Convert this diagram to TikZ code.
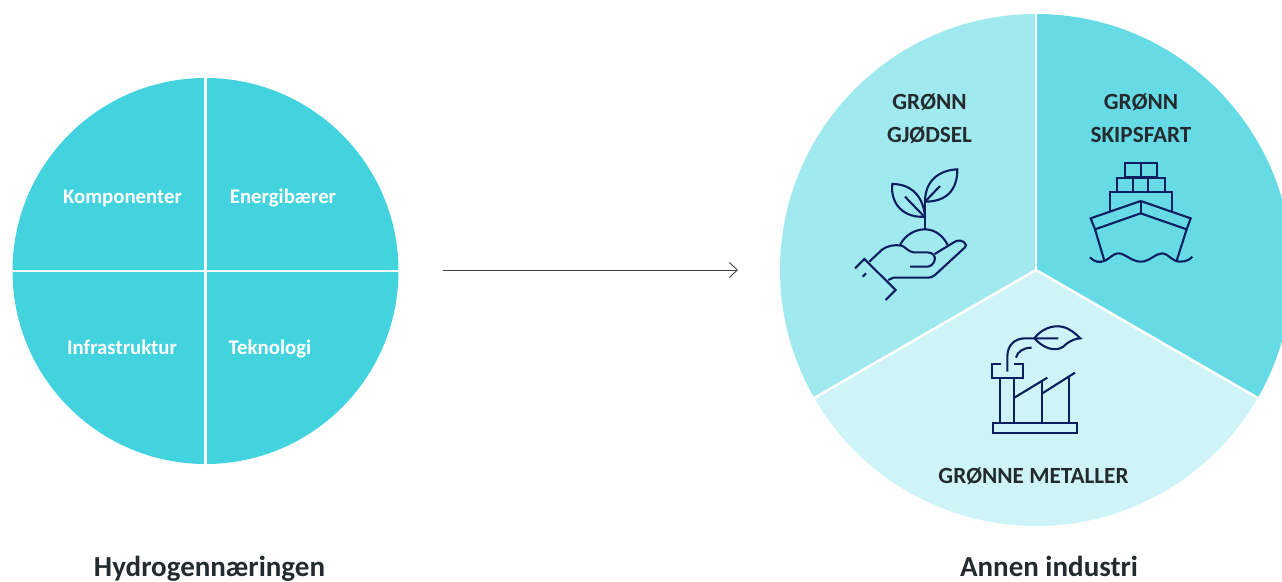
\documentclass[tikz,border=0pt]{standalone}
\usepackage{fontspec}
\setmainfont{Carlito}
\usetikzlibrary{arrows.meta}

\definecolor{hydroblue}{HTML}{43D3DE}
\definecolor{gjodselblue}{HTML}{A0E9EE}
\definecolor{skipblue}{HTML}{66DBE5}
\definecolor{metallblue}{HTML}{CFF4F7}
\definecolor{iconblue}{HTML}{0B1F5E}
\definecolor{labelgray}{HTML}{232B2E}

\tikzset{
  wheel/.style={circle,inner sep=0pt,outer sep=0pt},
  divider/.style={draw=white,line width=2.6pt},
  icon/.style={draw=iconblue,line width=2.1pt},
  whitelabel/.style={anchor=base,text=white,font=\fontsize{20.8}{24}\selectfont\bfseries},
  sectorlabel/.style={anchor=base,text=labelgray,font=\fontsize{23.2}{26}\selectfont\bfseries},
  titlelabel/.style={anchor=base,text=labelgray,font=\fontsize{29}{33}\selectfont\bfseries}
}

\begin{document}
\begin{tikzpicture}[x=1pt,y=-1pt]
\useasboundingbox (0,0) rectangle (1282,581);
\clip (0,0) rectangle (1282,581);

\node[wheel,fill=hydroblue,minimum size=386pt] (hydro) at (205.5,271) {};
\draw[divider] (hydro.north) -- (hydro.south);
\draw[divider] (hydro.west) -- (hydro.east);

\node[whitelabel] (komponenter) at (122.5,203) {Komponenter};
\node[whitelabel] (energi) at (283,203) {Energibærer};
\node[whitelabel] (infra) at (122,354) {Infrastruktur};
\node[whitelabel] (teknologi) at (270,354) {Teknologi};
\node[titlelabel] (hydrotitle) at (209.5,576) {Hydrogennæringen};

\coordinate (arrowstart) at (443,270);
\coordinate (arrowend) at (738,270);
\draw[draw=black!75,line width=0.8pt,-{Straight Barb[length=8pt,width=15pt,line width=0.9pt]}] (arrowstart) -- (arrowend);

\node[wheel,minimum size=512pt] (annen) at (1036,270) {};
\fill[gjodselblue] (annen.center) -- (annen.north) arc[start angle=-90,end angle=-210,radius=256] -- cycle;
\fill[skipblue] (annen.center) -- (annen.north) arc[start angle=-90,end angle=30,radius=256] -- cycle;
\fill[metallblue] (annen.center) -- (annen.210) arc[start angle=-210,end angle=-330,radius=256] -- cycle;
\draw[divider] (annen.center) -- (annen.north);
\draw[divider] (annen.center) -- (annen.210);
\draw[divider] (annen.center) -- (annen.330);

\node[sectorlabel] (gronn1) at (929.5,109) {GRØNN};
\node[sectorlabel] (gjodsel) at (929.5,142) {GJØDSEL};
\node[sectorlabel] (gronn2) at (1141,109) {GRØNN};
\node[sectorlabel] (skipsfart) at (1141,142) {SKIPSFART};
\node[sectorlabel] (metaller) at (1033.5,483) {GRØNNE METALLER};
\node[titlelabel] (annentitle) at (1049,576) {Annen industri};

% plant in hand
\begin{scope}[shift={(840,150)},scale=1/3]
\draw[icon] (255,238) -- (255,150);
\draw[icon] (255,155) .. controls (255,90) and (300,60) .. (352,58) .. controls (352,120) and (320,155) .. (255,155);
\draw[icon] (255,155) -- (300,108);
\draw[icon] (255,200) .. controls (190,205) and (150,160) .. (157,102) .. controls (215,102) and (250,140) .. (255,200);
\draw[icon] (195,140) -- (250,197);
\draw[icon] (180,285) .. controls (195,255) and (225,238) .. (255,238) .. controls (285,238) and (310,258) .. (323,285);
\draw[icon] (88,335) -- (125,300) .. controls (140,287) and (165,283) .. (185,287) .. controls (195,290) and (205,305) .. (220,307) -- (262,307) .. controls (280,307) and (287,320) .. (284,330) .. controls (282,342) and (270,350) .. (262,350) -- (210,350);
\draw[icon] (284,312) -- (345,275) .. controls (358,268) and (372,272) .. (378,285) .. controls (379,288) and (378,290) .. (375,292) -- (285,375) .. controls (278,382) and (270,383) .. (262,383) -- (160,383) -- (145,390);
\draw[icon] (45,355) -- (73,327) -- (167,420) -- (137,450);
\draw[icon] (68,380) -- (78,370);
\end{scope}

% ship
\begin{scope}[shift={(1075,150)},scale=1/3]
\draw[icon] (150,40) rectangle (245,82);
\draw[icon] (197,40) -- (197,82);
\draw[icon] (127,83) rectangle (270,127);
\draw[icon] (173,83) -- (173,127);
\draw[icon] (220,83) -- (220,127);
\draw[icon] (105,185) -- (105,127) -- (290,127) -- (290,185);
\draw[icon] (47,205) -- (197,153) -- (347,205) -- (335,238) -- (197,190) -- (60,238) -- cycle;
\draw[icon] (197,153) -- (197,190);
\draw[icon] (60,238) -- (88,332);
\draw[icon] (335,238) -- (305,332);
\draw[icon] (45,322) .. controls (60,338) and (75,338) .. (90,332) .. controls (105,325) and (115,310) .. (130,310) .. controls (150,310) and (170,335) .. (197,335) .. controls (225,335) and (240,310) .. (262,310) .. controls (280,310) and (290,335) .. (315,335) .. controls (335,335) and (345,328) .. (352,320);
\end{scope}

% factory with leaf
\begin{scope}[shift={(975,315)},scale=1/3]
\draw[icon] (55,323) rectangle (305,353);
\draw[icon] (78,148) -- (50,148) -- (50,190) -- (145,190) -- (145,148) -- (118,148);
\draw[icon] (76,190) -- (76,323);
\draw[icon] (118,190) -- (118,323);
\draw[icon] (97,170) -- (97,125) .. controls (97,90) and (120,70) .. (150,70) -- (250,70);
\draw[icon] (123,128) .. controls (127,110) and (145,98) .. (170,98);
\draw[icon] (178,70) .. controls (200,40) and (235,30) .. (260,35) .. controls (285,40) and (300,55) .. (316,70) .. controls (290,72) and (275,85) .. (265,95) .. controls (240,112) and (205,100) .. (178,70);
\draw[icon] (118,248) -- (217,188);
\draw[icon] (202,198) -- (202,323);
\draw[icon] (202,235) -- (300,173);
\draw[icon] (283,185) -- (283,323);
\end{scope}
\end{tikzpicture}
\end{document}
